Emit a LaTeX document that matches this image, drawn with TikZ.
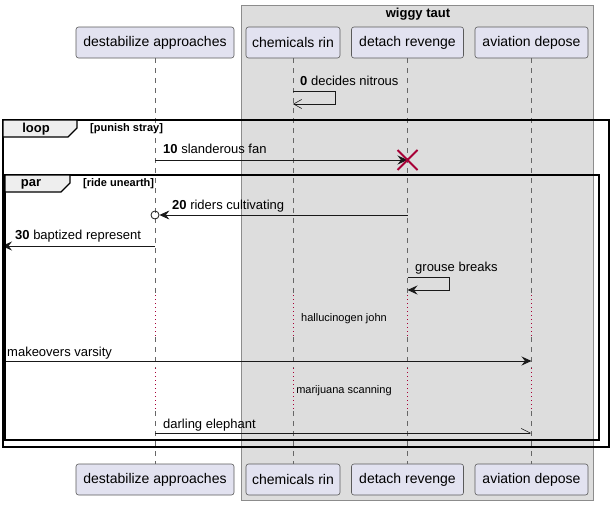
\documentclass[tikz,border=0pt]{standalone}
\usepackage{fontspec}
\setmainfont{Liberation Sans}
\definecolor{part-fill}{RGB}{226,226,240}
\definecolor{part-line}{RGB}{90,90,90}
\definecolor{box-fill}{RGB}{221,221,221}
\definecolor{box-line}{RGB}{140,140,140}
\definecolor{tab-fill}{RGB}{238,238,238}
\definecolor{destroy}{RGB}{168,0,54}
\usetikzlibrary{
  arrows.meta      % stealth and barb tips
}
\tikzset{
  x=1pt, y=-1pt,
  participant/.style = {
    rectangle,
    rounded corners=2.5pt,
    draw=part-line,
    fill=part-fill,
    line width=0.6pt,
    minimum height=31pt,
    inner sep=0pt,
    font=\fontsize{14}{16}\selectfont
  },
  lifeline/.style = {draw=black!60, line width=0.6pt, dash pattern=on 5pt off 5pt},
  delayline/.style = {draw=destroy, line width=0.8pt, dash pattern=on 1pt off 3pt},
  msg/.style = {draw=black!90, line width=0.8pt, -{Stealth[length=10pt, width=9pt, inset=3.5pt]}},
  openmsg/.style = {draw=black!90, line width=0.6pt, -{Straight Barb[length=8pt, width=9pt, line width=0.6pt]}},
  halfmsg/.style = {draw=black!90, line width=0.8pt, -{Straight Barb[harpoon, length=9pt, width=9pt, line width=0.6pt]}},
  msglabel/.style = {anchor=west, inner sep=0pt, font=\fontsize{13}{15}\selectfont},
  delaylabel/.style = {inner sep=0pt, font=\fontsize{11}{13}\selectfont},
  frame/.style = {draw=black, line width=1.5pt},
  tab/.style = {draw=black, fill=tab-fill, line width=1.2pt},
  tablabel/.style = {inner sep=0pt, font=\bfseries\fontsize{13}{15}\selectfont},
  guard/.style = {anchor=west, inner sep=0pt, font=\bfseries\fontsize{11}{13}\selectfont}
}

\begin{document}
\begin{tikzpicture}
  \useasboundingbox (0,0) rectangle (613,506);

  %% box
  \draw[box-line, fill=box-fill, line width=0.8pt] (241,5) rectangle (593,500);
  \node[tablabel] (WT) at (418,14) {wiggy taut};

  %% participants
  \node[participant, minimum width=158pt] (DA)  at (155,42.5)  {destabilize approaches};
  \node[participant, minimum width=94pt]  (CR)  at (293,42.5)  {chemicals rin};
  \node[participant, minimum width=112pt] (DR)  at (407.5,42.5) {detach revenge};
  \node[participant, minimum width=113pt] (AD)  at (531.5,42.5) {aviation depose};

  \node[participant, minimum width=158pt] (DAb) at (155,479.5)  {destabilize approaches};
  \node[participant, minimum width=94pt]  (CRb) at (293,479.5)  {chemicals rin};
  \node[participant, minimum width=112pt] (DRb) at (407.5,479.5) {detach revenge};
  \node[participant, minimum width=113pt] (ADb) at (531.5,479.5) {aviation depose};

  %% rows
  \coordinate (d1t) at (0,295);
  \coordinate (d1b) at (0,337);
  \coordinate (d2t) at (0,368);
  \coordinate (d2b) at (0,411);
  \coordinate (edge) at (2,0);

  %% lifelines
  \foreach \p in {DA,CR,DR,AD} {
    \draw[lifeline]  (\p.south) -- (\p.south |- d1t);
    \draw[delayline] (\p.south |- d1t) -- (\p.south |- d1b);
    \draw[lifeline]  (\p.south |- d1b) -- (\p.south |- d2t);
    \draw[delayline] (\p.south |- d2t) -- (\p.south |- d2b);
    \draw[lifeline]  (\p.south |- d2b) -- (\p b.north);
  }

  %% messages
  \coordinate (m0) at (0,91);
  \draw[openmsg] (CR |- m0) -- ++(42,0) -- ++(0,13) -- ++(-42,0);
  \node[msglabel] (L0) at (300,81) {\textbf{0} decides nitrous};

  \coordinate (m10) at (0,160);
  \draw[msg] (DA |- m10) -- (DR |- m10);
  \node[msglabel] (L10) at (163,149) {\textbf{10} slanderous fan};
  \draw[destroy, line width=2pt] ([shift={(-10,-10)}]DR |- m10) -- ([shift={(10,10)}]DR |- m10);
  \draw[destroy, line width=2pt] ([shift={(-10,10)}]DR |- m10) -- ([shift={(10,-10)}]DR |- m10);

  \coordinate (m20) at (0,215);
  \node[circle, draw=black!90, line width=0.8pt, minimum size=8pt, inner sep=0pt] (O20) at (DA |- m20) {};
  \draw[msg] (DR |- m20) -- (O20.east);
  \node[msglabel] (L20) at (172,206) {\textbf{20} riders cultivating};

  \coordinate (m30) at (0,246);
  \draw[msg] (DA |- m30) -- (edge |- m30);
  \node[msglabel] (L30) at (15,236) {\textbf{30} baptized represent};

  \coordinate (m40) at (0,277);
  \draw[msg] (DR |- m40) -- ++(42,0) -- ++(0,13) -- ++(-42,0);
  \node[msglabel] (L40) at (415,268) {grouse breaks};

  \node[delaylabel] (D1) at (344,319) {hallucinogen john};

  \coordinate (m50) at (0,361);
  \draw[msg] (edge |- m50) -- (AD |- m50);
  \node[msglabel] (L50) at (7,353) {makeovers varsity};

  \node[delaylabel] (D2) at (344,391) {marijuana scanning};

  \coordinate (m60) at (0,433);
  \draw[halfmsg] (DA |- m60) -- (AD |- m60);
  \node[msglabel] (L60) at (163,425) {darling elephant};

  %% frames
  \draw[frame] (3,120) rectangle (609,447);
  \draw[tab] (3,120) -- (77,120) -- (77,128) -- (68,137) -- (3,137) -- cycle;
  \node[tablabel] (Tloop) at (36,129) {loop};
  \node[guard] (Gloop) at (90,129) {[punish stray]};

  \draw[frame] (5,175) rectangle (599,440);
  \draw[tab] (5,175) -- (70,175) -- (70,183) -- (61,192) -- (5,192) -- cycle;
  \node[tablabel] (Tpar) at (31,184) {par};
  \node[guard] (Gpar) at (83,184) {[ride unearth]};

\end{tikzpicture}
\end{document}
